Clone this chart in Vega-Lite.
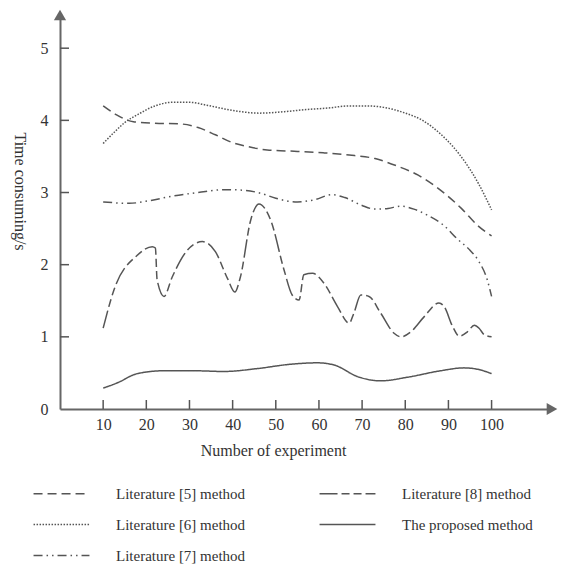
{
  "$schema": "https://vega.github.io/schema/vega-lite/v6.json",
  "width": 492,
  "height": 394,
  "autosize": {"type": "none"},
  "padding": {"left": 60, "top": 15, "right": 17, "bottom": 155},
  "background": "white",
  "config": {
    "font": "Liberation Serif",
    "view": {"stroke": null},
    "axis": {"grid": false, "domainColor": "#666666", "domainWidth": 2, "tickColor": "#666666", "tickWidth": 1.5, "labelFont": "Liberation Serif", "titleFont": "Liberation Serif", "labelFontSize": 16, "titleFontSize": 16, "labelColor": "#333333", "titleColor": "#333333", "titleFontWeight": "normal"}
  },
  "datasets": {
    "lines": [
      {"s": "Literature [5] method", "x": 10, "y": 4.2},
      {"s": "Literature [5] method", "x": 13, "y": 4.08},
      {"s": "Literature [5] method", "x": 17, "y": 3.98},
      {"s": "Literature [5] method", "x": 22, "y": 3.96},
      {"s": "Literature [5] method", "x": 28, "y": 3.95},
      {"s": "Literature [5] method", "x": 32, "y": 3.9},
      {"s": "Literature [5] method", "x": 36, "y": 3.8},
      {"s": "Literature [5] method", "x": 40, "y": 3.69},
      {"s": "Literature [5] method", "x": 44, "y": 3.63},
      {"s": "Literature [5] method", "x": 48, "y": 3.59},
      {"s": "Literature [5] method", "x": 55, "y": 3.57},
      {"s": "Literature [5] method", "x": 61, "y": 3.55},
      {"s": "Literature [5] method", "x": 67, "y": 3.52},
      {"s": "Literature [5] method", "x": 73, "y": 3.47},
      {"s": "Literature [5] method", "x": 78, "y": 3.37},
      {"s": "Literature [5] method", "x": 83, "y": 3.24},
      {"s": "Literature [5] method", "x": 88, "y": 3.04},
      {"s": "Literature [5] method", "x": 93, "y": 2.78},
      {"s": "Literature [5] method", "x": 97, "y": 2.53},
      {"s": "Literature [5] method", "x": 100, "y": 2.4},

      {"s": "Literature [6] method", "x": 10, "y": 3.68},
      {"s": "Literature [6] method", "x": 13, "y": 3.86},
      {"s": "Literature [6] method", "x": 15, "y": 3.97},
      {"s": "Literature [6] method", "x": 18, "y": 4.08},
      {"s": "Literature [6] method", "x": 22, "y": 4.2},
      {"s": "Literature [6] method", "x": 26, "y": 4.25},
      {"s": "Literature [6] method", "x": 30, "y": 4.25},
      {"s": "Literature [6] method", "x": 34, "y": 4.21},
      {"s": "Literature [6] method", "x": 38, "y": 4.16},
      {"s": "Literature [6] method", "x": 42, "y": 4.12},
      {"s": "Literature [6] method", "x": 46, "y": 4.1},
      {"s": "Literature [6] method", "x": 52, "y": 4.12},
      {"s": "Literature [6] method", "x": 57, "y": 4.15},
      {"s": "Literature [6] method", "x": 62, "y": 4.17},
      {"s": "Literature [6] method", "x": 67, "y": 4.2},
      {"s": "Literature [6] method", "x": 71, "y": 4.2},
      {"s": "Literature [6] method", "x": 75, "y": 4.18},
      {"s": "Literature [6] method", "x": 80, "y": 4.1},
      {"s": "Literature [6] method", "x": 84, "y": 4.0},
      {"s": "Literature [6] method", "x": 88, "y": 3.82},
      {"s": "Literature [6] method", "x": 91, "y": 3.64},
      {"s": "Literature [6] method", "x": 94, "y": 3.41},
      {"s": "Literature [6] method", "x": 97, "y": 3.12},
      {"s": "Literature [6] method", "x": 100, "y": 2.76},

      {"s": "Literature [7] method", "x": 10, "y": 2.87},
      {"s": "Literature [7] method", "x": 16, "y": 2.85},
      {"s": "Literature [7] method", "x": 21, "y": 2.89},
      {"s": "Literature [7] method", "x": 26, "y": 2.95},
      {"s": "Literature [7] method", "x": 32, "y": 3.0},
      {"s": "Literature [7] method", "x": 38, "y": 3.04},
      {"s": "Literature [7] method", "x": 43, "y": 3.03},
      {"s": "Literature [7] method", "x": 47, "y": 2.98},
      {"s": "Literature [7] method", "x": 50, "y": 2.92},
      {"s": "Literature [7] method", "x": 55, "y": 2.87},
      {"s": "Literature [7] method", "x": 59, "y": 2.9},
      {"s": "Literature [7] method", "x": 63, "y": 2.97},
      {"s": "Literature [7] method", "x": 66, "y": 2.93},
      {"s": "Literature [7] method", "x": 70, "y": 2.82},
      {"s": "Literature [7] method", "x": 73, "y": 2.77},
      {"s": "Literature [7] method", "x": 76, "y": 2.78},
      {"s": "Literature [7] method", "x": 79, "y": 2.81},
      {"s": "Literature [7] method", "x": 82, "y": 2.77},
      {"s": "Literature [7] method", "x": 85, "y": 2.69},
      {"s": "Literature [7] method", "x": 89, "y": 2.54},
      {"s": "Literature [7] method", "x": 92, "y": 2.36},
      {"s": "Literature [7] method", "x": 95, "y": 2.2},
      {"s": "Literature [7] method", "x": 97, "y": 2.05},
      {"s": "Literature [7] method", "x": 99, "y": 1.79},
      {"s": "Literature [7] method", "x": 100, "y": 1.56},

      {"s": "Literature [8] method", "x": 10, "y": 1.12},
      {"s": "Literature [8] method", "x": 12.5, "y": 1.65},
      {"s": "Literature [8] method", "x": 17.9, "y": 2.13},
      {"s": "Literature [8] method", "x": 21.4, "y": 2.25},
      {"s": "Literature [8] method", "x": 22.1, "y": 2.23},
      {"s": "Literature [8] method", "x": 22.5, "y": 1.79},
      {"s": "Literature [8] method", "x": 24.1, "y": 1.56},
      {"s": "Literature [8] method", "x": 26, "y": 1.83},
      {"s": "Literature [8] method", "x": 29.5, "y": 2.2},
      {"s": "Literature [8] method", "x": 33, "y": 2.32},
      {"s": "Literature [8] method", "x": 36, "y": 2.18},
      {"s": "Literature [8] method", "x": 38.8, "y": 1.81},
      {"s": "Literature [8] method", "x": 40.5, "y": 1.62},
      {"s": "Literature [8] method", "x": 41.8, "y": 1.83},
      {"s": "Literature [8] method", "x": 44.2, "y": 2.62},
      {"s": "Literature [8] method", "x": 46.1, "y": 2.84},
      {"s": "Literature [8] method", "x": 48.8, "y": 2.62},
      {"s": "Literature [8] method", "x": 51.9, "y": 1.93},
      {"s": "Literature [8] method", "x": 53.8, "y": 1.58},
      {"s": "Literature [8] method", "x": 55.4, "y": 1.51},
      {"s": "Literature [8] method", "x": 56.5, "y": 1.86},
      {"s": "Literature [8] method", "x": 58.5, "y": 1.88},
      {"s": "Literature [8] method", "x": 61.2, "y": 1.74},
      {"s": "Literature [8] method", "x": 64.3, "y": 1.42},
      {"s": "Literature [8] method", "x": 67, "y": 1.19},
      {"s": "Literature [8] method", "x": 68.1, "y": 1.33},
      {"s": "Literature [8] method", "x": 69.7, "y": 1.58},
      {"s": "Literature [8] method", "x": 71.6, "y": 1.56},
      {"s": "Literature [8] method", "x": 74.3, "y": 1.33},
      {"s": "Literature [8] method", "x": 77.4, "y": 1.05},
      {"s": "Literature [8] method", "x": 79, "y": 1.0},
      {"s": "Literature [8] method", "x": 81.3, "y": 1.07},
      {"s": "Literature [8] method", "x": 84.4, "y": 1.28},
      {"s": "Literature [8] method", "x": 87.8, "y": 1.47},
      {"s": "Literature [8] method", "x": 89, "y": 1.42},
      {"s": "Literature [8] method", "x": 91, "y": 1.14},
      {"s": "Literature [8] method", "x": 92.5, "y": 1.01},
      {"s": "Literature [8] method", "x": 94.4, "y": 1.07},
      {"s": "Literature [8] method", "x": 96, "y": 1.16},
      {"s": "Literature [8] method", "x": 97.1, "y": 1.12},
      {"s": "Literature [8] method", "x": 98.3, "y": 1.03},
      {"s": "Literature [8] method", "x": 100, "y": 1.0},

      {"s": "The proposed method", "x": 10, "y": 0.29},
      {"s": "The proposed method", "x": 13.2, "y": 0.36},
      {"s": "The proposed method", "x": 17.9, "y": 0.49},
      {"s": "The proposed method", "x": 24.1, "y": 0.53},
      {"s": "The proposed method", "x": 31, "y": 0.53},
      {"s": "The proposed method", "x": 38, "y": 0.52},
      {"s": "The proposed method", "x": 45.7, "y": 0.56},
      {"s": "The proposed method", "x": 53.4, "y": 0.62},
      {"s": "The proposed method", "x": 59.6, "y": 0.64},
      {"s": "The proposed method", "x": 63.5, "y": 0.61},
      {"s": "The proposed method", "x": 68.9, "y": 0.45},
      {"s": "The proposed method", "x": 74.3, "y": 0.39},
      {"s": "The proposed method", "x": 80.5, "y": 0.44},
      {"s": "The proposed method", "x": 88.2, "y": 0.53},
      {"s": "The proposed method", "x": 93.6, "y": 0.57},
      {"s": "The proposed method", "x": 96.8, "y": 0.55},
      {"s": "The proposed method", "x": 100, "y": 0.49}
    ],
    "arrows": [
      {"x": 0, "y": 5.46, "shape": "triangle-up"},
      {"x": 114, "y": 0, "shape": "triangle-right"}
    ],
    "xticks": [{"v": 10}, {"v": 20}, {"v": 30}, {"v": 40}, {"v": 50}, {"v": 60}, {"v": 70}, {"v": 80}, {"v": 90}, {"v": 100}],
    "yticks": [{"v": 1}, {"v": 2}, {"v": 3}, {"v": 4}, {"v": 5}]
  },
  "layer": [
    {
      "data": {"name": "lines"},
      "mark": {"type": "line", "interpolate": "monotone", "color": "#555555", "strokeWidth": 1.5},
      "encoding": {
        "x": {
          "field": "x", "type": "quantitative",
          "scale": {"domain": [0, 114], "nice": false, "zero": false},
          "axis": {"values": [10, 20, 30, 40, 50, 60, 70, 80, 90, 100], "ticks": false, "labelPadding": 7, "title": "Number of experiment", "titleX": 213, "titleY": 41, "titleBaseline": "middle", "titleAlign": "center"}
        },
        "y": {
          "field": "y", "type": "quantitative",
          "scale": {"domain": [0, 5.46], "nice": false},
          "axis": {"values": [0, 1, 2, 3, 4, 5], "format": "d", "ticks": false, "labelPadding": 12, "title": "Time consuming/s", "titleAngle": 90, "titleX": -41, "titleY": 176, "titleBaseline": "middle", "titleAlign": "center"}
        },
        "strokeDash": {
          "field": "s", "type": "nominal",
          "scale": {
            "domain": ["Literature [5] method", "Literature [6] method", "Literature [7] method", "Literature [8] method", "The proposed method"],
            "range": [[9, 5], [1.5, 1.5], [9, 4, 1.5, 4, 1.5, 4], [18, 4, 8, 4, 8, 4], [1, 0]]
          },
          "legend": {
            "title": null, "orient": "none", "legendX": -21, "legendY": 456, "columns": 2,
            "symbolType": "M-1.3,0H1.3", "symbolSize": 1850, "symbolStrokeColor": "#555555", "symbolStrokeWidth": 1.5, "symbolFillColor": "transparent",
            "labelFont": "Liberation Serif", "labelFontSize": 15, "labelColor": "#333333", "labelOffset": 32,
            "columnPadding": 70, "rowPadding": -2
          }
        }
      }
    },
    {
      "data": {"name": "xticks"},
      "mark": {"type": "tick", "orient": "vertical", "color": "#555555", "size": 9, "thickness": 1.5, "opacity": 1, "yOffset": -4.5},
      "encoding": {
        "x": {"field": "v", "type": "quantitative"},
        "y": {"datum": 0}
      }
    },
    {
      "data": {"name": "yticks"},
      "mark": {"type": "tick", "orient": "horizontal", "color": "#555555", "size": 9, "thickness": 1.5, "opacity": 1, "xOffset": 4.5},
      "encoding": {
        "y": {"field": "v", "type": "quantitative"},
        "x": {"datum": 0}
      }
    },
    {
      "data": {"name": "arrows"},
      "mark": {"type": "point", "filled": true, "color": "#666666", "opacity": 1, "size": 150},
      "encoding": {
        "x": {"field": "x", "type": "quantitative"},
        "y": {"field": "y", "type": "quantitative"},
        "shape": {"field": "shape", "type": "nominal", "scale": null, "legend": null}
      }
    }
  ]
}
